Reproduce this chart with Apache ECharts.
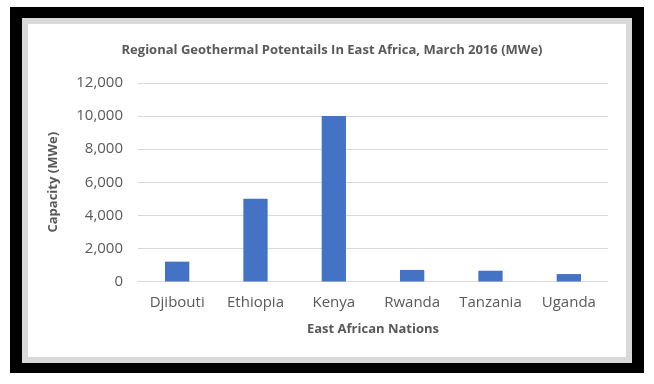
<!DOCTYPE html>
<html><head><meta charset="utf-8">
<script src="https://cdn.jsdelivr.net/npm/echarts@6/dist/echarts.min.js"></script>
<style>html,body{margin:0;padding:0;background:#fff}#c{width:654px;height:384px}</style>
</head><body><div id="c"></div>
<script>
const categories = ['Djibouti', 'Ethiopia', 'Kenya', 'Rwanda', 'Tanzania', 'Uganda'];
const capacity = [1200, 5000, 10000, 700, 650, 450];
const titleText = 'Regional Geothermal Potentails In East Africa, March 2016 (MWe)';
const yAxisTitle = 'Capacity (MWe)';
const xAxisTitle = 'East African Nations';

const chart = echarts.init(document.getElementById('c'), null, {renderer: 'canvas'});
const font = '"Open Sans", "Noto Sans", sans-serif';
chart.setOption({
  animation: false,
  backgroundColor: '#fff',
  graphic: [
    {type: 'rect', z: -10, shape: {x: 10, y: 7, width: 634, height: 366}, style: {fill: '#000'}, silent: true},
    {type: 'rect', z: -9, shape: {x: 22, y: 18, width: 610, height: 345}, style: {fill: '#d9d9d9'}, silent: true},
    {type: 'rect', z: -8, shape: {x: 28, y: 24, width: 598, height: 333}, style: {fill: '#fff'}, silent: true}
  ],
  title: {
    text: titleText,
    left: 327, top: 39, textAlign: 'center',
    textStyle: {fontFamily: font, fontSize: 13, fontWeight: 'bold', color: '#595959'}
  },
  grid: {left: 138, right: 46, top: 83, bottom: 102.5, containLabel: false},
  xAxis: {
    type: 'category', data: categories,
    axisLine: {lineStyle: {color: '#d9d9d9', width: 1}},
    axisTick: {show: false},
    axisLabel: {fontFamily: font, fontSize: 15, color: '#595959', margin: 14, interval: 0},
    name: xAxisTitle, nameLocation: 'middle', nameGap: 41,
    nameTextStyle: {fontFamily: font, fontSize: 13, fontWeight: 'bold', color: '#595959'}
  },
  yAxis: {
    type: 'value', min: 0, max: 12000, interval: 2000,
    axisLine: {show: false}, axisTick: {show: false},
    splitLine: {lineStyle: {color: '#d9d9d9', width: 1}},
    axisLabel: {fontFamily: font, fontSize: 15, color: '#595959', margin: 15,
      formatter: v => v.toLocaleString('en-US')},
    name: yAxisTitle, nameLocation: 'middle', nameGap: 78, nameRotate: 90,
    nameTextStyle: {fontFamily: font, fontSize: 13, fontWeight: 'bold', color: '#595959'}
  },
  series: [{
    type: 'bar', data: capacity, barWidth: '31%',
    itemStyle: {color: '#4472c4'}
  }]
});
</script></body></html>
